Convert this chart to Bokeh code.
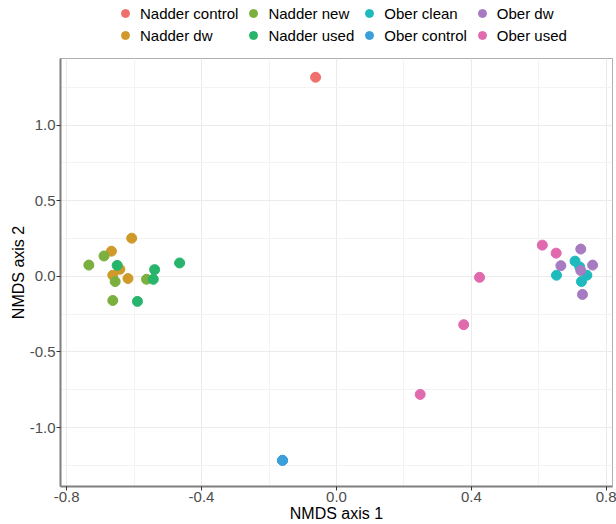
from bokeh.plotting import figure
from bokeh.layouts import column
from bokeh.models import Range1d, FixedTicker, Legend, LegendItem, PrintfTickFormatter
from bokeh.embed import file_html
from bokeh.resources import INLINE

groups = ["Nadder control", "Nadder dw", "Nadder new", "Nadder used",
          "Ober clean", "Ober control", "Ober dw", "Ober used"]
colors = ["#EE6F6B", "#D09A2A", "#7BAF3E", "#26B56A",
          "#1FBABE", "#3A9FDB", "#A67BC2", "#E16AAE"]

nadder_control_x = [-0.062]
nadder_control_y = [1.316]
nadder_dw_x = [-0.607, -0.667, -0.642, -0.663, -0.618]
nadder_dw_y = [0.252, 0.166, 0.046, 0.007, -0.015]
nadder_new_x = [-0.734, -0.689, -0.656, -0.663, -0.563]
nadder_new_y = [0.074, 0.134, -0.035, -0.160, -0.020]
nadder_used_x = [-0.650, -0.539, -0.543, -0.590, -0.465]
nadder_used_y = [0.072, 0.044, -0.020, -0.166, 0.088]
ober_clean_x = [0.652, 0.707, 0.721, 0.742, 0.726]
ober_clean_y = [0.007, 0.100, 0.061, 0.007, -0.035]
ober_control_x = [-0.160, -0.160]
ober_control_y = [-1.217, -1.217]
ober_dw_x = [0.724, 0.665, 0.759, 0.724, 0.729]
ober_dw_y = [0.180, 0.070, 0.074, 0.038, -0.120]
ober_used_x = [0.610, 0.651, 0.424, 0.377, 0.248]
ober_used_y = [0.206, 0.153, -0.007, -0.320, -0.781]

xs = [nadder_control_x, nadder_dw_x, nadder_new_x, nadder_used_x,
      ober_clean_x, ober_control_x, ober_dw_x, ober_used_x]
ys = [nadder_control_y, nadder_dw_y, nadder_new_y, nadder_used_y,
      ober_clean_y, ober_control_y, ober_dw_y, ober_used_y]

x_ticks = [-0.8, -0.4, 0.0, 0.4, 0.8]
x_minor = [-0.6, -0.2, 0.2, 0.6]
y_ticks = [-1.0, -0.5, 0.0, 0.5, 1.0]
y_minor = [-1.25, -0.75, -0.25, 0.25, 0.75, 1.25]

FONT = "Liberation Sans"
LEG_H = 54

p = figure(width=616, height=524 - LEG_H, output_backend="svg", toolbar_location=None,
           x_range=Range1d(-0.818, 0.818), y_range=Range1d(-1.39, 1.44),
           min_border_left=60, min_border_right=4, min_border_top=4,
           min_border_bottom=36)

for g, c, x, y in zip(groups, colors, xs, ys):
    p.scatter(x, y, size=10, color=c, line_color=c)

p.xaxis.ticker = FixedTicker(ticks=x_ticks, minor_ticks=x_minor)
p.yaxis.ticker = FixedTicker(ticks=y_ticks, minor_ticks=y_minor)
p.xaxis.axis_label = "NMDS axis 1"
p.yaxis.axis_label = "NMDS axis 2"
for ax in (p.xaxis, p.yaxis):
    ax.formatter = PrintfTickFormatter(format="%.1f")
    ax.axis_label_text_font = FONT
    ax.axis_label_text_font_size = "16px"
    ax.axis_label_text_font_style = "normal"
    ax.axis_label_text_color = "#000000"
    ax.major_label_text_font = FONT
    ax.major_label_text_font_size = "15px"
    ax.major_label_text_color = "#4D4D4D"
    ax.axis_line_color = "#7F7F7F"
    ax.axis_line_width = 2
    ax.major_tick_line_color = "#333333"
    ax.major_tick_in = 0
    ax.major_tick_out = 4
    ax.minor_tick_line_color = None
    ax.axis_label_standoff = 0
    ax.major_label_standoff = 1

p.xgrid.grid_line_color = "#EBEBEB"
p.ygrid.grid_line_color = "#EBEBEB"
p.xgrid.minor_grid_line_color = "#F3F3F3"
p.ygrid.minor_grid_line_color = "#F3F3F3"
p.outline_line_color = "#B0B0B0"
p.outline_line_width = 1

# legend-only panel: same data drawn outside its visible range, only the key shows
lg = figure(width=616, height=LEG_H, output_backend="svg", toolbar_location=None,
            x_axis_type=None, y_axis_type=None, min_border=0,
            x_range=Range1d(10, 11), y_range=Range1d(10, 11))
lg.outline_line_color = None
lg.xgrid.visible = False
lg.ygrid.visible = False
leg_r = {}
for g, c, x, y in zip(groups, colors, xs, ys):
    leg_r[g] = lg.scatter(x, y, size=10, color=c, line_color=c)

order = ["Nadder control", "Nadder new", "Ober clean", "Ober dw",
         "Nadder dw", "Nadder used", "Ober control", "Ober used"]
items = [LegendItem(label=g, renderers=[leg_r[g]]) for g in order]
legend = Legend(items=items, orientation="horizontal", nrows=2,
                label_text_font=FONT, label_text_font_size="15px",
                label_text_color="#000000",
                border_line_color=None, background_fill_alpha=0,
                glyph_width=26, glyph_height=20, label_height=18,
                spacing=2, padding=0, margin=0, label_standoff=2,
                location=(52, 9))
lg.add_layout(legend, "center")

open("out.html", "w").write(file_html(column(lg, p, spacing=0), INLINE))
